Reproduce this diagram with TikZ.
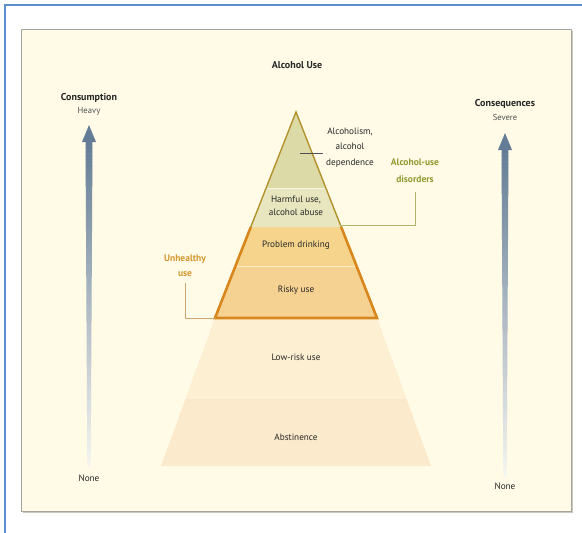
\documentclass[tikz,border=0pt]{standalone}
\usepackage{fontspec}
\setmainfont{PT Sans}
\usetikzlibrary{calc}

\definecolor{framecol}{HTML}{5B8FD0}
\definecolor{cream}{HTML}{FFFBE7}
\definecolor{panelgray}{HTML}{A4A49C}
\definecolor{shadowgray}{HTML}{C8C8C0}
\definecolor{textdark}{HTML}{262626}
\definecolor{textgray}{HTML}{505050}
\definecolor{arrowblue}{HTML}{647D96}
\definecolor{arrowfade}{HTML}{F6F6F2}
\definecolor{lowrisk}{HTML}{FCEFD2}
\definecolor{abstain}{HTML}{FBEACB}
\definecolor{bandline}{HTML}{FFF6E2}
\definecolor{probfill}{HTML}{F6D48C}
\definecolor{riskyfill}{HTML}{F5D192}
\definecolor{orangeline}{HTML}{D8871C}
\definecolor{depfill}{HTML}{DCDAA6}
\definecolor{harmfill}{HTML}{E7E6BE}
\definecolor{greenline}{HTML}{B3922C}
\definecolor{olivetext}{HTML}{8E9A2E}
\definecolor{oliveline}{HTML}{AEB36A}
\definecolor{unhealthytext}{HTML}{D6982E}
\definecolor{unhealthyline}{HTML}{CFA572}

\tikzset{
  txt/.style={font=\fontsize{9.2}{10}\selectfont, text=textdark, inner sep=0pt, align=center},
  heading/.style={font=\bfseries\fontsize{10}{11}\selectfont, text=textdark, inner sep=0pt},
  sublabel/.style={font=\fontsize{8.6}{10}\selectfont, text=textgray, inner sep=0pt},
  bracketgreen/.style={draw=oliveline, line width=1pt},
  bracketorange/.style={draw=unhealthyline, line width=1pt},
}

% tapering shaft that fades from blue into the background:
% #1 = x, #2 = top y, #3 = bottom y
\newcommand\fadeshaft[3]{%
  \foreach \i in {0,...,89}{%
    \pgfmathsetmacro\ya{#2+(#3-#2)/90*\i}%
    \pgfmathsetmacro\yb{#2+(#3-#2)/90*(\i+1)+0.5}%
    \pgfmathsetmacro\wa{3.5-1.8/90*\i}%
    \pgfmathsetmacro\wb{3.5-1.8/90*(\i+1)}%
    \pgfmathsetmacro\pc{100-100/90*\i}%
    \fill[arrowblue!\pc!arrowfade] (#1-\wa,\ya) -- (#1+\wa,\ya) -- (#1+\wb,\yb) -- (#1-\wb,\yb) -- cycle;
  }%
}

\begin{document}
\begin{tikzpicture}[x=1pt,y=-1pt]
\useasboundingbox (0,0) rectangle (582,533);
\fill[white] (0,0) rectangle (582,533);

% outer frame
\draw[framecol, line width=2pt] (5,540) -- (5,5) -- (590,5);

% panel with a soft shadow
\fill[shadowgray] (22.5,30.5) rectangle (572.5,512.5);
\filldraw[fill=cream, draw=panelgray, line width=1pt] (21,29) rectangle (571,511);

% pyramid corners
\coordinate (apex) at (296,112);
\coordinate (h1l) at (266.1,188);  \coordinate (h1r) at (325.9,188);
\coordinate (h2l) at (250.8,227);  \coordinate (h2r) at (341.2,227);
\coordinate (h3l) at (235.4,266);  \coordinate (h3r) at (356.6,266);
\coordinate (h4l) at (215,318);    \coordinate (h4r) at (377,318);
\coordinate (h5l) at (186.2,397);  \coordinate (h5r) at (405.8,397);
\coordinate (h6l) at (161,466);    \coordinate (h6r) at (431,466);

% lower tiers
\fill[lowrisk] (h4l) -- (h4r) -- (h5r) -- (h5l) -- cycle;
\fill[abstain] (h5l) -- (h5r) -- (h6r) -- (h6l) -- cycle;
\draw[bandline, line width=1pt] (h5l) -- (h5r);

% unhealthy-use tiers
\fill[probfill] (h2l) -- (h2r) -- (h3r) -- (h3l) -- cycle;
\fill[riskyfill] (h3l) -- (h3r) -- (h4r) -- (h4l) -- cycle;
\draw[bandline!70!probfill, line width=0.8pt] (h3l) -- (h3r);
\draw[orangeline, line width=2.6pt, line join=miter] (h2l) -- (h4l) -- (h4r) -- (h2r);

% alcohol-use disorder tiers
\fill[depfill] (apex) -- (h1r) -- (h1l) -- cycle;
\fill[harmfill] (h1l) -- (h1r) -- (h2r) -- (h2l) -- cycle;
\draw[white!60!harmfill, line width=0.8pt] (h1l) -- (h1r);
\draw[greenline, line width=1.4pt, line join=miter] (h2l) -- (apex) -- (h2r);

% titles
\node[heading] (title) at (297,65) {Alcohol Use};
\node[heading] (cons) at (89,98) {Consumption};
\node[sublabel] (heavy) at (89,111) {Heavy};
\node[txt] (none1) at (89,478) {None};
\node[heading] (conq) at (505,104) {Consequences};
\node[sublabel] (severe) at (505,117.5) {Severe};
\node[txt] (none2) at (505,486) {None};

% gradient arrows
\fadeshaft{89}{141}{466}
\fill[arrowblue] (89,125) -- (96,142) -- (82,142) -- cycle;
\fadeshaft{505}{149}{476}
\fill[arrowblue] (505,133) -- (512,150) -- (498,150) -- cycle;

% tier labels
\node[txt, font=\fontsize{9.2}{15.5}\selectfont] (dep) at (350,147.5) {Alcoholism,\\alcohol\\dependence};
\node[txt, font=\fontsize{9.2}{13.5}\selectfont] (harm) at (296,206) {Harmful use,\\alcohol abuse};
\node[txt] (prob) at (296,245) {Problem drinking};
\node[txt] (risky) at (296,290) {Risky use};
\node[txt] (low) at (296,357) {Low-risk use};
\node[txt] (abst) at (296,437) {Abstinence};

% leader into the top tier
\coordinate (depin) at (300,153);
\draw[textdark!80, line width=0.7pt] (depin) -- (323,153);

% group labels and brackets
\node[txt, font=\bfseries\fontsize{9.5}{17}\selectfont, text=olivetext] (aud) at (415,170.5) {Alcohol-use\\disorders};
\coordinate (audfoot) at (415,225);
\draw[bracketgreen] (aud.south |- 0,192) -- (audfoot) -- (340,225);

\node[txt, font=\bfseries\fontsize{9.5}{15}\selectfont, text=unhealthytext] (unh) at (185,265.5) {Unhealthy\\use};
\coordinate (unhfoot) at (185,318);
\draw[bracketorange] (185,283) -- (unhfoot) -- (h4l);
\end{tikzpicture}
\end{document}
